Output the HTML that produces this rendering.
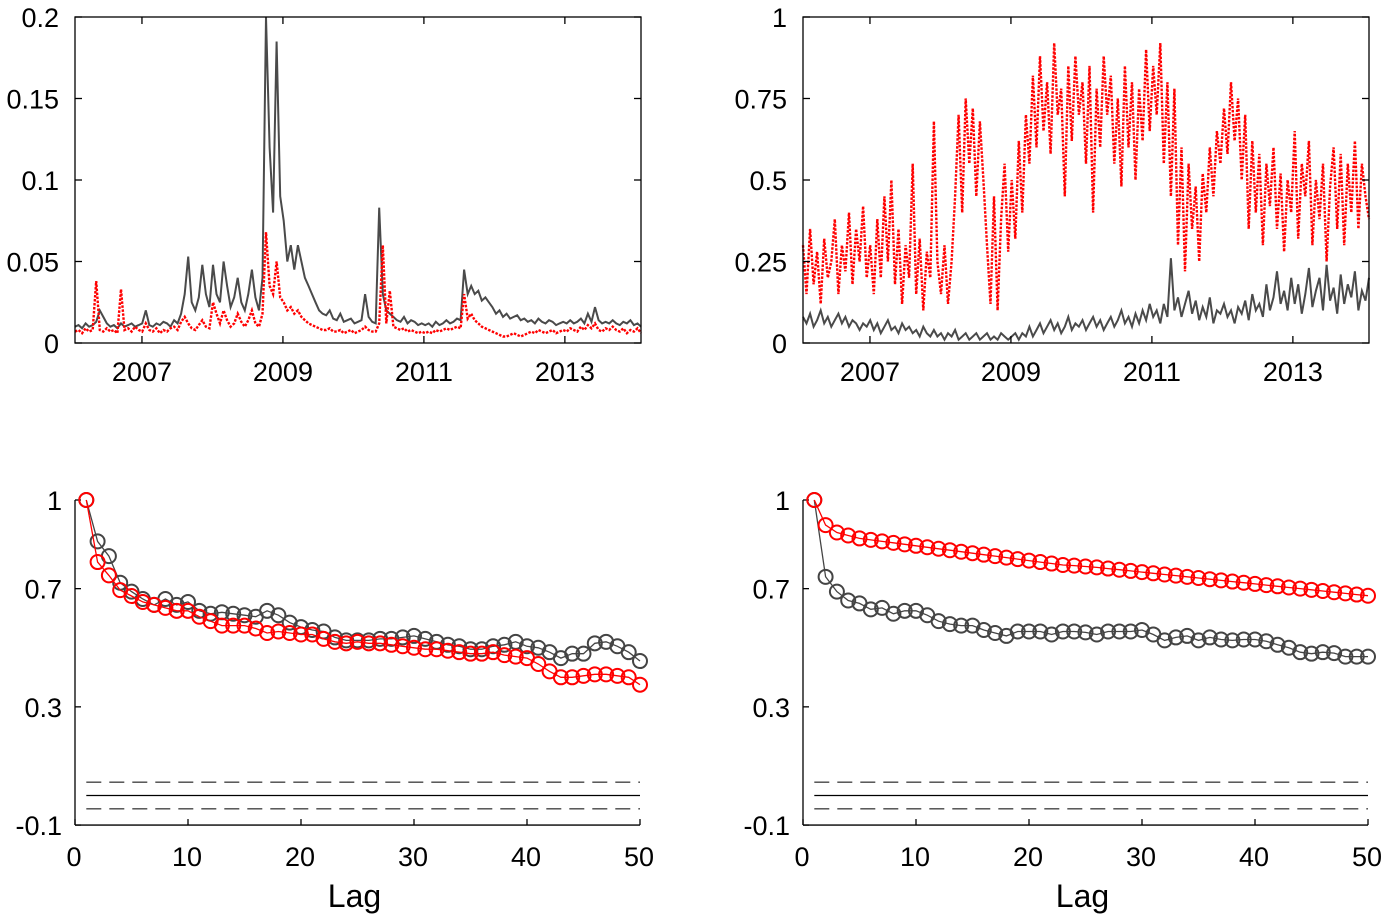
<!DOCTYPE html>
<html><head><meta charset="utf-8"><style>
html,body{margin:0;padding:0;background:#fff;}
svg{display:block;font-family:"Liberation Sans",sans-serif;}
</style></head><body>
<svg id="c" width="1381" height="916" viewBox="0 0 1381 916"></svg>
<script>
const tlGray=[0.010,0.011,0.009,0.012,0.010,0.011,0.013,0.020,0.016,0.012,0.010,0.011,0.009,0.012,0.010,0.011,0.012,0.010,0.011,
0.012,0.020,0.011,0.010,0.012,0.011,0.013,0.012,0.010,0.014,0.012,0.018,0.030,0.053,0.025,0.020,0.028,0.048,0.030,0.022,
0.048,0.030,0.025,0.050,0.035,0.022,0.028,0.040,0.025,0.020,0.030,0.045,0.028,0.020,0.040,0.200,0.120,0.080,0.185,0.090,
0.075,0.050,0.060,0.045,0.060,0.050,0.040,0.035,0.030,0.025,0.020,0.018,0.017,0.020,0.015,0.014,0.018,0.013,0.014,0.015,
0.012,0.013,0.014,0.030,0.016,0.013,0.012,0.083,0.030,0.020,0.018,0.016,0.014,0.013,0.016,0.012,0.014,0.013,0.011,0.012,
0.011,0.012,0.010,0.013,0.011,0.012,0.014,0.012,0.013,0.015,0.014,0.045,0.030,0.035,0.030,0.032,0.026,0.028,0.025,0.022,
0.018,0.020,0.016,0.018,0.015,0.016,0.017,0.014,0.015,0.013,0.014,0.012,0.015,0.013,0.012,0.014,0.013,0.011,0.012,0.013,
0.012,0.014,0.012,0.013,0.015,0.012,0.018,0.013,0.022,0.014,0.012,0.013,0.012,0.014,0.012,0.011,0.013,0.012,0.014,0.011,0.012,0.010];
const tlRed=[0.007,0.008,0.006,0.009,0.007,0.008,0.038,0.008,0.007,0.009,0.007,0.008,0.006,0.033,0.008,0.009,0.007,0.010,0.008,
0.007,0.012,0.008,0.007,0.009,0.006,0.008,0.007,0.009,0.010,0.008,0.013,0.016,0.012,0.009,0.008,0.011,0.014,0.010,0.009,
0.025,0.018,0.012,0.020,0.014,0.010,0.012,0.018,0.013,0.010,0.014,0.020,0.012,0.010,0.018,0.068,0.035,0.030,0.050,0.028,
0.025,0.020,0.022,0.018,0.020,0.016,0.014,0.012,0.011,0.010,0.009,0.008,0.008,0.009,0.007,0.007,0.008,0.006,0.007,0.008,
0.006,0.007,0.008,0.010,0.008,0.007,0.007,0.012,0.060,0.012,0.032,0.010,0.009,0.008,0.009,0.007,0.008,0.007,0.006,0.007,
0.006,0.007,0.006,0.008,0.007,0.008,0.009,0.008,0.009,0.010,0.009,0.030,0.015,0.018,0.014,0.012,0.010,0.009,0.008,0.007,
0.006,0.005,0.004,0.004,0.005,0.006,0.005,0.004,0.005,0.006,0.007,0.006,0.008,0.007,0.006,0.007,0.008,0.006,0.007,0.008,
0.007,0.009,0.008,0.007,0.010,0.008,0.011,0.009,0.012,0.008,0.007,0.009,0.008,0.010,0.008,0.007,0.009,0.006,0.008,0.007,0.009,0.006];
const trRed=[0.30,0.15,0.35,0.18,0.28,0.12,0.32,0.20,0.25,0.38,0.15,0.30,0.22,0.40,0.18,0.35,0.25,0.42,0.20,
0.30,0.15,0.38,0.20,0.45,0.25,0.50,0.18,0.35,0.12,0.30,0.20,0.55,0.15,0.32,0.10,0.28,0.20,0.68,0.25,
0.15,0.30,0.12,0.25,0.45,0.70,0.40,0.75,0.55,0.72,0.45,0.68,0.50,0.30,0.12,0.45,0.10,0.38,0.55,0.28,
0.50,0.32,0.62,0.40,0.70,0.55,0.82,0.60,0.88,0.65,0.80,0.58,0.92,0.70,0.78,0.45,0.85,0.62,0.88,0.70,
0.80,0.55,0.85,0.40,0.78,0.60,0.88,0.70,0.82,0.55,0.75,0.48,0.85,0.60,0.80,0.50,0.78,0.62,0.90,0.65,
0.85,0.70,0.92,0.55,0.80,0.45,0.78,0.30,0.60,0.22,0.55,0.35,0.48,0.25,0.52,0.40,0.60,0.45,0.65,0.55,
0.72,0.58,0.80,0.62,0.75,0.50,0.70,0.35,0.62,0.40,0.58,0.30,0.55,0.42,0.60,0.35,0.52,0.28,0.50,0.40,
0.65,0.32,0.55,0.45,0.62,0.30,0.50,0.38,0.55,0.25,0.48,0.60,0.35,0.58,0.30,0.55,0.40,0.62,0.35,0.55,0.45,0.38];
const trGray=[0.08,0.06,0.09,0.05,0.07,0.10,0.06,0.08,0.05,0.07,0.09,0.06,0.08,0.05,0.07,0.06,0.04,0.06,0.05,
0.07,0.04,0.06,0.03,0.05,0.07,0.04,0.05,0.03,0.06,0.04,0.05,0.03,0.04,0.02,0.05,0.03,0.02,0.04,0.02,
0.03,0.01,0.03,0.02,0.04,0.01,0.02,0.03,0.01,0.02,0.03,0.01,0.02,0.03,0.01,0.02,0.01,0.03,0.02,0.01,
0.02,0.03,0.01,0.03,0.02,0.05,0.02,0.04,0.06,0.03,0.05,0.07,0.04,0.06,0.03,0.05,0.08,0.04,0.06,0.05,
0.07,0.04,0.06,0.08,0.05,0.07,0.04,0.06,0.08,0.05,0.07,0.10,0.06,0.08,0.05,0.09,0.06,0.10,0.07,0.12,
0.08,0.10,0.06,0.12,0.08,0.26,0.10,0.14,0.08,0.12,0.16,0.09,0.13,0.07,0.11,0.08,0.14,0.06,0.10,0.09,
0.12,0.08,0.10,0.06,0.11,0.09,0.13,0.07,0.15,0.10,0.12,0.08,0.18,0.10,0.14,0.22,0.12,0.16,0.10,0.20,
0.12,0.18,0.09,0.15,0.23,0.11,0.16,0.20,0.10,0.24,0.13,0.17,0.09,0.21,0.12,0.18,0.14,0.22,0.10,0.16,0.13,0.20];
const lags=Array.from({length:50},(_,i)=>i+1);
const blGray=[1,0.86,0.81,0.72,0.69,0.665,0.645,0.665,0.645,0.655,0.625,0.615,0.62,0.615,0.61,0.605,0.625,0.61,0.585,0.57,0.56,0.555,0.535,0.525,0.525,0.525,0.53,0.53,0.535,0.54,0.53,0.52,0.51,0.505,0.495,0.495,0.505,0.51,0.52,0.505,0.5,0.485,0.465,0.48,0.48,0.515,0.52,0.505,0.485,0.455];
const blRed=[1,0.79,0.745,0.695,0.675,0.655,0.645,0.635,0.625,0.625,0.605,0.59,0.575,0.575,0.575,0.565,0.55,0.555,0.55,0.545,0.545,0.53,0.52,0.515,0.52,0.515,0.515,0.51,0.505,0.5,0.495,0.495,0.49,0.485,0.48,0.48,0.485,0.475,0.47,0.465,0.445,0.42,0.40,0.40,0.405,0.41,0.41,0.405,0.40,0.375];
const brRed=[1,0.915,0.89,0.88,0.87,0.865,0.86,0.855,0.85,0.845,0.84,0.835,0.83,0.825,0.82,0.815,0.81,0.805,0.80,0.795,0.79,0.785,0.78,0.778,0.775,0.772,0.768,0.764,0.76,0.756,0.752,0.748,0.744,0.74,0.736,0.732,0.728,0.724,0.72,0.716,0.712,0.708,0.704,0.70,0.696,0.692,0.688,0.684,0.68,0.676];
const brGray=[1,0.74,0.69,0.66,0.65,0.63,0.635,0.615,0.625,0.625,0.61,0.59,0.58,0.575,0.575,0.56,0.55,0.54,0.555,0.555,0.555,0.545,0.555,0.555,0.552,0.545,0.555,0.555,0.555,0.56,0.545,0.525,0.535,0.54,0.525,0.535,0.528,0.525,0.528,0.528,0.522,0.51,0.50,0.485,0.48,0.485,0.482,0.47,0.47,0.47];
const topYTicksL=["0","0.05","0.1","0.15","0.2"], topYTickValsL=[0,0.05,0.1,0.15,0.2];
const topYTicksR=["0","0.25","0.5","0.75","1"], topYTickValsR=[0,0.25,0.5,0.75,1];
const yearTicks=[2007,2009,2011,2013];
const acfYTicks=["-0.1","0.3","0.7","1"], acfYTickVals=[-0.1,0.3,0.7,1];
const lagTicks=[0,10,20,30,40,50];

const NS="http://www.w3.org/2000/svg", svg=document.getElementById('c');
function mk(tag,a,p){const e=document.createElementNS(NS,tag);for(const k in a)e.setAttribute(k,a[k]);(p||svg).appendChild(e);return e;}
function txt(x,y,s,anchor,size,p){const t=mk('text',{x:x,y:y,'text-anchor':anchor,'font-size':size,fill:'#000'},p);t.textContent=s;return t;}

function topPanel(x0,x1,y0,y1,ymax,tv,tl,gray,red,name){
  const g=mk('g',{});
  
  
  const X=t=>x0+(t-2006.05)/(2014.08-2006.05)*(x1-x0);
  const Y=v=>y1-v/ymax*(y1-y0);
  const n=gray.length, tAt=i=>2006.05+i*(2014.08-2006.05)/(n-1);
  const pr=red.map((v,i)=>X(tAt(i)).toFixed(1)+','+Y(v).toFixed(1)).join(' ');
  const pg=gray.map((v,i)=>X(tAt(i)).toFixed(1)+','+Y(v).toFixed(1)).join(' ');
  const order=name==='top-right-panel';
  const gl=()=>{const l=mk('polyline',{points:pg,fill:'none',stroke:'#4a4a4a','stroke-width':2},g);};
  const rl=()=>{const l=mk('polyline',{points:pr,fill:'none',stroke:'#ff0000','stroke-width':2.4,'stroke-dasharray':'2.5,1.5'},g);};
  if(order){rl();gl();}else{gl();rl();}
  mk('rect',{x:x0,y:y0,width:x1-x0,height:y1-y0,fill:'none',stroke:'#000','stroke-width':1.3},g);
  tv.forEach((v,i)=>{const y=Y(v);mk('line',{x1:x0,x2:x0+7,y1:y,y2:y,stroke:'#000','stroke-width':1.3},g);mk('line',{x1:x1-7,x2:x1,y1:y,y2:y,stroke:'#000','stroke-width':1.3},g);
    const t=txt(x0-16,y+10,tl[i],'end',27,g);});
  yearTicks.forEach(yr=>{const x=X(yr+0.0);mk('line',{x1:x,x2:x,y1:y1,y2:y1-7,stroke:'#000','stroke-width':1.3},g);mk('line',{x1:x,x2:x,y1:y0,y2:y0+7,stroke:'#000','stroke-width':1.3},g);
    const t=txt(x,381,String(yr),'middle',27,g);});
}
function acfPanel(x0,x1,gray,red,name){
  const g=mk('g',{});
  
  
  const X=l=>x0+l/50*(x1-x0);
  const Y=v=>500+(1-v)*295.5;
  const yb=Y(-0.1);
  mk('line',{x1:x0,x2:x0,y1:Y(1),y2:yb,stroke:'#000','stroke-width':1.3},g);
  mk('line',{x1:x0,x2:x1,y1:yb,y2:yb,stroke:'#000','stroke-width':1.3},g);
  acfYTickVals.forEach((v,i)=>{const y=Y(v);mk('line',{x1:x0,x2:x0+6,y1:y,y2:y,stroke:'#000','stroke-width':1.3},g);
    const t=txt(x0-13,y+10,acfYTicks[i],'end',27,g);});
  lagTicks.forEach(l=>{const x=X(l);mk('line',{x1:x,x2:x,y1:yb,y2:yb-6,stroke:'#000','stroke-width':1.3},g);
    const t=txt(x-1,866,String(l),'middle',27,g);});
  const lt=txt((x0+x1)/2-3,907,'Lag','middle',32,g);
  const xa=X(1),xb=X(50);
  mk('line',{x1:xa,x2:xb,y1:Y(0),y2:Y(0),stroke:'#000','stroke-width':1.3},g);
  [0.045,-0.045].forEach(v=>{const l=mk('line',{x1:xa,x2:xb,y1:Y(v),y2:Y(v),stroke:'#444','stroke-width':1.3,'stroke-dasharray':'15,8'},g);});
  [[gray,'#444','gray-acf'],[red,'#ff0000','red-acf']].forEach(([arr,c,nm])=>{
    const pl=mk('polyline',{points:arr.map((v,i)=>X(lags[i]).toFixed(1)+','+Y(v).toFixed(1)).join(' '),fill:'none',stroke:c,'stroke-width':1.3},g);
    
    arr.forEach((v,i)=>{const cc=mk('circle',{cx:X(lags[i]),cy:Y(v),r:7,fill:'none',stroke:c,'stroke-width':2},g);
      });
  });
}
topPanel(75,641,17,343,0.2,topYTickValsL,topYTicksL,tlGray,tlRed,'top-left-panel');
topPanel(803,1369,17,343,1,topYTickValsR,topYTicksR,trGray,trRed,'top-right-panel');
acfPanel(75,640,blGray,blRed,'bottom-left-panel');
acfPanel(803,1368,brGray,brRed,'bottom-right-panel');
</script>
</body></html>
